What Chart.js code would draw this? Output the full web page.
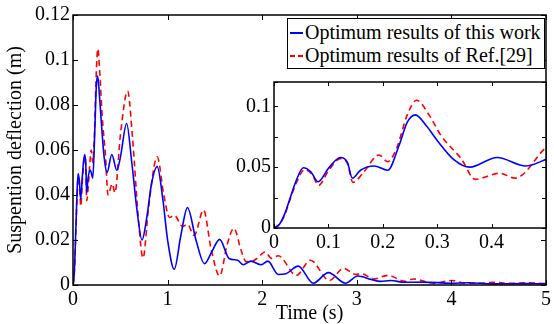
<!DOCTYPE html>
<html>
<head>
<meta charset="utf-8">
<script src="https://cdn.jsdelivr.net/npm/chart.js@4"></script>
<style>
body{margin:0;background:#fff}
#wrap{position:relative;width:554px;height:324px}
canvas{position:absolute;left:0;top:0}
#legend{position:absolute;left:287px;top:18px;width:258px;height:51px;box-sizing:border-box;border:1.5px solid #000;background:#fff;
  font:20px 'Liberation Serif',serif;color:#000;padding-top:2px;z-index:3;white-space:nowrap}
.row{display:flex;align-items:center;height:23px;padding-left:2px}
.key{width:13px;height:2px;margin-right:2px}
</style>
</head>
<body>
<div id="wrap">
  <canvas id="main" width="554" height="324"></canvas>
  <canvas id="inset" width="554" height="324"></canvas>
  <div id="legend">
    <div class="row"><span class="key" style="background:#0000ff"></span>Optimum results of this work</div>
    <div class="row"><span class="key" style="background:repeating-linear-gradient(to right,#ff0000 0 5px,transparent 5px 8px)"></span>Optimum results of Ref.[29]</div>
  </div>
</div>
<script>
// time (s) and suspension deflection (m)
var tWork = [0, 0.01, 0.02, 0.03, 0.04, 0.054, 0.068, 0.081, 0.1, 0.122, 0.135, 0.144, 0.159, 0.184, 0.209, 0.23, 0.245, 0.26, 0.28, 0.30,
  0.33, 0.36, 0.41, 0.463, 0.50, 0.567, 0.62, 0.68, 0.73, 0.78, 0.83, 0.89, 0.95, 1.0, 1.07, 1.14, 1.21, 1.30, 1.39, 1.47,
  1.55, 1.65, 1.74, 1.80, 1.88, 1.99, 2.06, 2.17, 2.25, 2.38, 2.54, 2.70, 2.88, 3.01, 3.15, 3.25, 3.36, 3.5, 3.7, 4.0,
  4.18, 4.44, 4.8, 5.0];
var yWork = [0, 0.003, 0.012, 0.025, 0.038, 0.0495, 0.046, 0.038, 0.049, 0.058, 0.054, 0.041, 0.0475, 0.051, 0.0475, 0.068, 0.087, 0.093, 0.084, 0.072,
  0.0565, 0.050, 0.058, 0.051, 0.0565, 0.0718, 0.055, 0.032, 0.020, 0.030, 0.045, 0.0526, 0.038, 0.02, 0.007, 0.022, 0.0344, 0.020, 0.0095, 0.015,
  0.0203, 0.0118, 0.011, 0.009, 0.0106, 0.009, 0.0106, 0.0047, 0.005, 0.0084, 0.0008, 0.0055, 0.0008, 0.004, 0.0025, 0.0016, 0.002, 0.0012, 0.0013, 0.0008,
  0.001, 0.0005, 0.0006, 0.0005];

var tRef = [0, 0.01, 0.02, 0.03, 0.04, 0.056, 0.07, 0.082, 0.1, 0.122, 0.135, 0.145, 0.165, 0.193, 0.209, 0.225, 0.245, 0.262, 0.285, 0.307,
  0.344, 0.37, 0.415, 0.443, 0.502, 0.577, 0.63, 0.69, 0.74, 0.80, 0.89, 0.96, 1.02, 1.07, 1.16, 1.21, 1.28, 1.38, 1.46, 1.55,
  1.63, 1.70, 1.78, 1.83, 1.89, 1.95, 2.03, 2.10, 2.17, 2.36, 2.51, 2.71, 2.86, 2.99, 3.05, 3.18, 3.33, 3.51, 3.6, 3.81,
  4.01, 4.14, 4.3, 4.45, 4.6, 4.8, 5.0];
var yRef = [0, 0.003, 0.011, 0.024, 0.036, 0.048, 0.044, 0.035, 0.047, 0.057, 0.053, 0.0375, 0.046, 0.060, 0.0545, 0.065, 0.093, 0.105, 0.093, 0.076,
  0.057, 0.040, 0.045, 0.041, 0.067, 0.0862, 0.065, 0.030, 0.012, 0.035, 0.057, 0.040, 0.030, 0.031, 0.026, 0.027, 0.022, 0.0333, 0.016, 0.004,
  0.018, 0.0252, 0.015, 0.0104, 0.0105, 0.012, 0.0147, 0.0118, 0.013, 0.0043, 0.011, 0.002, 0.0074, 0.0047, 0.005, 0.0027, 0.0043, 0.0016, 0.0027, 0.0008,
  0.002, 0.0008, 0.0008, 0.0012, 0.0007, 0.001, 0.0006];

var seriesNames = ["Optimum results of this work", "Optimum results of Ref.[29]"];

function pts(t, y) {
  return t.map(function (v, i) { return {x: v, y: y[i]}; });
}

var serif = "'Liberation Serif', 'Times New Roman', serif";
Chart.defaults.font.family = serif;
Chart.defaults.color = '#000';

// box round the plot with inward ticks, matlab style
var frame = {
  id: 'frame',
  beforeDraw: function (chart) {
    var a = chart.chartArea, ctx = chart.ctx;
    ctx.save();
    ctx.fillStyle = '#fff';
    ctx.fillRect(a.left, a.top, a.width, a.height);
    ctx.restore();
  },
  afterDraw: function (chart, args, opts) {
    var ctx = chart.ctx, a = chart.chartArea, sx = chart.scales.x, sy = chart.scales.y;
    var L = opts.len || 4;
    ctx.save();
    ctx.strokeStyle = '#000';
    ctx.lineWidth = 1;
    ctx.beginPath();
    sx.ticks.forEach(function (t) {
      var px = Math.round(sx.getPixelForValue(t.value)) + 0.5;
      ctx.moveTo(px, a.bottom); ctx.lineTo(px, a.bottom - L);
      ctx.moveTo(px, a.top); ctx.lineTo(px, a.top + L);
    });
    sy.ticks.forEach(function (t) {
      var py = Math.round(sy.getPixelForValue(t.value)) + 0.5;
      ctx.moveTo(a.left, py); ctx.lineTo(a.left + L, py);
      ctx.moveTo(a.right, py); ctx.lineTo(a.right - L, py);
    });
    ctx.stroke();
    ctx.lineWidth = opts.lw || 1.5;
    ctx.strokeRect(a.left, a.top, a.width, a.height);
    ctx.restore();
  }
};

function datasets() {
  return [{
    label: seriesNames[0],
    data: pts(tWork, yWork),
    borderColor: '#0000ff',
    borderWidth: 1.6,
    pointRadius: 0,
    cubicInterpolationMode: 'monotone'
  }, {
    label: seriesNames[1],
    data: pts(tRef, yRef),
    borderColor: '#ff0000',
    borderWidth: 1.6,
    borderDash: [6, 4],
    pointRadius: 0,
    cubicInterpolationMode: 'monotone'
  }];
}

function fmt(v) { return String(+v.toFixed(3)); }

new Chart(document.getElementById('main'), {
  type: 'line',
  data: {datasets: datasets()},
  plugins: [frame],
  options: {
    responsive: false,
    animation: false,
    layout: {padding: {top: 15, right: 6, left: 0, bottom: 0}},
    plugins: {legend: {display: false}, tooltip: {enabled: false}, frame: {len: 5, lw: 1.5}},
    scales: {
      x: {
        type: 'linear', min: 0, max: 5,
        grid: {display: false, drawTicks: false}, border: {display: false},
        ticks: {stepSize: 1, padding: 3, maxRotation: 0, font: {size: 20}},
        title: {display: true, text: 'Time (s)', font: {size: 20, lineHeight: 1}, padding: {top: 0, bottom: 0}},
        afterFit: function (s) { s.height = 39; }
      },
      y: {
        min: 0, max: 0.12,
        grid: {display: false, drawTicks: false}, border: {display: false},
        ticks: {stepSize: 0.02, padding: 3, font: {size: 20}, callback: fmt},
        title: {display: true, text: 'Suspention deflection (m)', font: {size: 20, lineHeight: 1}, padding: {top: 6, bottom: 0}},
        afterFit: function (s) { s.width = 73; }
      }
    }
  }
});

new Chart(document.getElementById('inset'), {
  type: 'line',
  data: {datasets: datasets()},
  plugins: [frame],
  options: {
    responsive: false,
    animation: false,
    layout: {padding: {top: 82, right: 8, left: 224, bottom: 0}},
    plugins: {legend: {display: false}, tooltip: {enabled: false}, frame: {len: 4, lw: 1.5}},
    scales: {
      x: {
        type: 'linear', min: 0, max: 0.5,
        grid: {display: false, drawTicks: false}, border: {display: false},
        ticks: {stepSize: 0.1, padding: 3, maxRotation: 0, autoSkip: false, font: {size: 20},
          callback: function (v) { return v > 0.45 ? '' : fmt(v); }},
        afterFit: function (s) { s.height = 96; }
      },
      y: {
        min: 0, max: 0.12,
        grid: {display: false, drawTicks: false}, border: {display: false},
        ticks: {stepSize: 0.025, padding: 3, autoSkip: false, font: {size: 20},
          callback: function (v) {
            var k = v / 0.05;
            return (Math.abs(k - Math.round(k)) < 1e-6 && v < 0.11) ? fmt(v) : '';
          }},
        afterFit: function (s) { s.width = 50; }
      }
    }
  }
});
</script>
</body>
</html>
